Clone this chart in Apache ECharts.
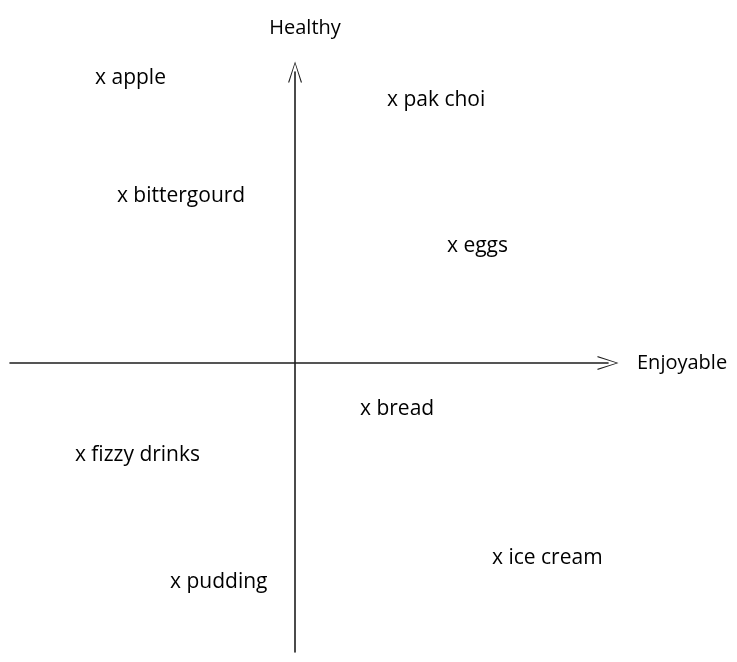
<!DOCTYPE html>
<html>
<head>
<meta charset="utf-8">
<script src="https://cdn.jsdelivr.net/npm/echarts@6/dist/echarts.min.js"></script>
<style>
html,body{margin:0;padding:0;background:#fff;}
#chart{width:737px;height:662px;}
</style>
</head>
<body>
<div id="chart"></div>
<script>
var foods = ['apple', 'pak choi', 'bittergourd', 'eggs', 'bread', 'fizzy drinks', 'ice cream', 'pudding'];
var enjoyable = [-6.5, 3.23, -5.77, 5.23, 2.33, -7.17, 6.73, -4.0];
var healthy = [9.56, 8.83, 5.6, 3.93, -1.54, -3.09, -6.54, -7.35];
var axisNames = ['Enjoyable', 'Healthy'];

var points = foods.map(function (f, i) { return { name: f, value: [enjoyable[i], healthy[i]] }; });
var ink = '#1e1e1e';
var font = 'Open Sans';
var chevron = 'path://M0,0 L8,24 L6.6,24 L0,2.6 L-6.6,24 L-8,24 Z';

var chart = echarts.init(document.getElementById('chart'));
chart.setOption({
  backgroundColor: '#ffffff',
  animation: false,
  grid: { left: 10, right: 129, top: 72, bottom: 10 },
  xAxis: {
    type: 'value', min: -9.5, max: 10.43,
    name: axisNames[0], nameLocation: 'end', nameGap: 29,
    nameTextStyle: { color: '#000000', fontFamily: font, fontSize: 20, padding: [12, 0, 0, 0] },
    axisLine: { show: true, onZero: true, lineStyle: { color: ink, width: 1.6 }, symbol: ['none', chevron], symbolSize: [14, 26] },
    axisTick: { show: false }, axisLabel: { show: false }, splitLine: { show: false }
  },
  yAxis: {
    type: 'value', min: -9.7, max: 9.77,
    name: axisNames[1], nameLocation: 'end', nameGap: 34,
    nameTextStyle: { color: '#000000', fontFamily: font, fontSize: 20, padding: [0, 0, 0, 20] },
    axisLine: { show: true, onZero: true, lineStyle: { color: ink, width: 1.6 }, symbol: ['none', chevron], symbolSize: [14, 26] },
    axisTick: { show: false }, axisLabel: { show: false }, splitLine: { show: false }
  },
  series: [{
    type: 'scatter',
    data: points,
    symbol: 'circle',
    symbolSize: 0,
    itemStyle: { color: ink, opacity: 1 },
    label: {
      show: true,
      position: 'right',
      distance: -5,
      formatter: function (p) { return 'x ' + p.name; },
      color: '#000000',
      opacity: 1,
      fontFamily: font,
      fontSize: 21
    }
  }]
});
</script>
</body>
</html>
